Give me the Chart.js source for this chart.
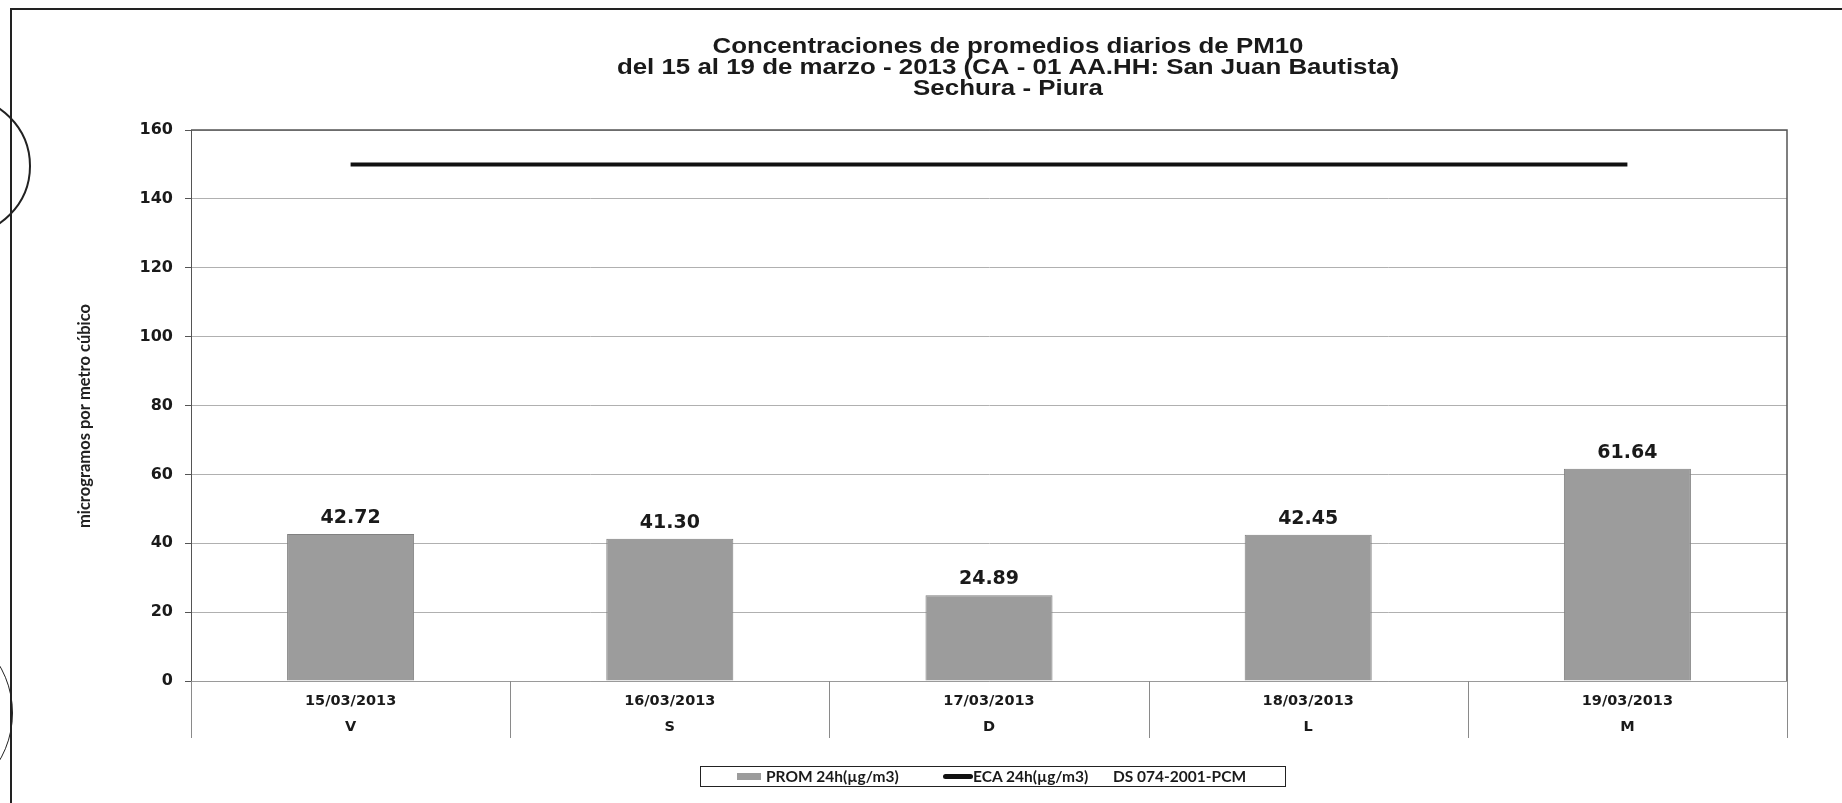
<!DOCTYPE html>
<html>
<head>
<meta charset="utf-8">
<script src="https://cdn.jsdelivr.net/npm/chart.js@4.4.0/dist/chart.umd.min.js"></script>
<style>
html,body{margin:0;padding:0;background:#fff;}
#wrap{position:relative;width:1842px;height:803px;overflow:hidden;background:#fff;}
#grafico{position:absolute;left:0;top:0;}
.linea-top{position:absolute;left:10px;top:8px;width:1840px;height:2px;background:#222;}
.linea-izq{position:absolute;left:10px;top:8px;width:2px;height:800px;background:#222;}
.sello{position:absolute;border-radius:50%;border:2px solid #222;}
#leyenda{position:absolute;left:700px;top:766px;width:584px;height:19px;border:1.5px solid #222;
  font-family:Lato,sans-serif;font-weight:bold;font-size:15.5px;color:#1a1a1a;}
#leyenda span{position:absolute;top:0;line-height:19px;white-space:nowrap;}
#leyenda .sw{position:absolute;}
</style>
</head>
<body>
<div id="wrap">
  <div class="linea-top"></div>
  <div class="linea-izq"></div>
  <div class="sello" style="left:-109px;top:96px;width:136px;height:136px;"></div>
  <div class="sello" style="left:-175px;top:619px;width:186px;height:186px;border-width:1px;"></div>
  <canvas id="grafico" width="1842" height="803"></canvas>
  <div id="leyenda"></div>
</div>
<script>
// datos
const fechas = ['15/03/2013', '16/03/2013', '17/03/2013', '18/03/2013', '19/03/2013'];
const dias = ['V', 'S', 'D', 'L', 'M'];
const prom24h = [42.72, 41.30, 24.89, 42.45, 61.64];
const eca24h = [150, 150, 150, 150, 150];
const yMin = 0, yMax = 160, yPaso = 20;
const titulo = [
  'Concentraciones de promedios diarios de PM10',
  'del 15 al 19 de marzo - 2013 (CA - 01 AA.HH: San Juan Bautista)',
  'Sechura - Piura'
];
const ejeY = 'microgramos por metro cúbico';
const leyendaTxt = ['PROM 24h(µg/m3)', 'ECA 24h(µg/m3)', 'DS 074-2001-PCM'];

const colorBarra = '#9c9c9c';
const colorTexto = '#1a1a1a';

// leyenda en html (con recuadro)
const ley = document.getElementById('leyenda');
ley.innerHTML =
  `<div class="sw" style="left:36px;top:6px;width:24px;height:7px;background:${colorBarra}"></div>` +
  `<span style="left:65px">${leyendaTxt[0]}</span>` +
  `<div class="sw" style="left:242px;top:7px;width:30px;height:5px;border-radius:3px;background:#111"></div>` +
  `<span style="left:272px">${leyendaTxt[1]}</span>` +
  `<span style="left:412px">${leyendaTxt[2]}</span>`;

const pluginTextos = {
  id: 'textos',
  afterDraw(chart){
    const ctx = chart.ctx;
    ctx.save();
    // titulo: letra algo ensanchada como en el original
    ctx.font = 'bold 22.5px "Liberation Sans", Arial, sans-serif';
    ctx.fillStyle = colorTexto;
    ctx.textAlign = 'center';
    ctx.textBaseline = 'middle';
    titulo.forEach((t, i) => {
      ctx.save();
      ctx.translate(1008, 47 + i * 21);
      ctx.scale(1.15, 1);
      ctx.fillText(t, 0, 0);
      ctx.restore();
    });
    // titulo del eje Y
    ctx.translate(85, 416);
    ctx.rotate(-Math.PI / 2);
    ctx.font = 'bold 16.5px Lato, sans-serif';
    ctx.fillStyle = '#222';
    ctx.fillText(ejeY, 0, 0);
    ctx.restore();
  }
};

const pluginMarco = {
  id: 'marco',
  afterDraw(chart){
    const {ctx, chartArea: a} = chart;
    const xs = chart.scales.x;
    ctx.save();
    // borde superior y derecho del area de trazado
    ctx.strokeStyle = '#555';
    ctx.lineWidth = 1.5;
    ctx.beginPath();
    ctx.moveTo(a.left, a.top); ctx.lineTo(a.right, a.top); ctx.lineTo(a.right, a.bottom);
    ctx.stroke();
    // divisiones entre categorias bajo el eje
    const medio = (xs.getPixelForValue(1) - xs.getPixelForValue(0)) / 2;
    ctx.strokeStyle = '#8a8a8a';
    ctx.lineWidth = 1;
    for(let i = 0; i <= fechas.length; i++){
      const x = Math.round(xs.getPixelForValue(i) - medio) + 0.5;
      ctx.beginPath();
      ctx.moveTo(x, a.bottom); ctx.lineTo(x, a.bottom + 57);
      ctx.stroke();
    }
    ctx.restore();
  }
};

const pluginValores = {
  id: 'valores',
  afterDatasetsDraw(chart){
    const ctx = chart.ctx;
    const meta = chart.getDatasetMeta(1);
    ctx.save();
    ctx.font = 'bold 19px "DejaVu Sans", sans-serif';
    ctx.fillStyle = colorTexto;
    ctx.textAlign = 'center';
    ctx.textBaseline = 'alphabetic';
    meta.data.forEach((bar, i) => {
      ctx.fillText(prom24h[i].toFixed(2), bar.x, bar.y - 11);
    });
    ctx.restore();
  }
};

new Chart(document.getElementById('grafico'), {
  type: 'bar',
  data: {
    labels: fechas.map((f, i) => [f, dias[i]]),
    datasets: [
      {
        type: 'line',
        label: leyendaTxt[1],
        data: eca24h,
        borderColor: '#111',
        backgroundColor: '#111',
        borderWidth: 4,
        pointRadius: 0,
        order: 0
      },
      {
        type: 'bar',
        label: leyendaTxt[0],
        data: prom24h,
        backgroundColor: colorBarra,
        borderColor: '#808080',
        borderWidth: 1,
        barPercentage: 0.398,
        categoryPercentage: 1,
        order: 1
      }
    ]
  },
  options: {
    responsive: false,
    animation: false,
    devicePixelRatio: 1,
    layout: { padding: { top: 130, right: 55, bottom: 62, left: 60 } },
    plugins: {
      legend: { display: false },
      title: { display: false },
      tooltip: { enabled: false }
    },
    scales: {
      x: {
        offset: true,
        grid: { display: false, drawTicks: false },
        border: { color: '#9a9a9a', width: 1 },
        ticks: {
          padding: 7,
          color: colorTexto,
          font: { family: '"DejaVu Sans", sans-serif', weight: 'bold', size: 14.5, lineHeight: 26 / 14.5 }
        },
        afterFit(s){ s.height = 60; }
      },
      y: {
        min: yMin,
        max: yMax,
        ticks: {
          stepSize: yPaso,
          padding: 12,
          color: colorTexto,
          font: { family: '"DejaVu Sans", sans-serif', weight: 'bold', size: 16 }
        },
        grid: { color: '#b0b0b0', tickColor: '#555', tickLength: 6, lineWidth: 1 },
        border: { color: '#555', width: 1 },
        afterFit(s){ s.width = 131; }
      }
    }
  },
  plugins: [pluginTextos, pluginMarco, pluginValores]
});
</script>
</body>
</html>
